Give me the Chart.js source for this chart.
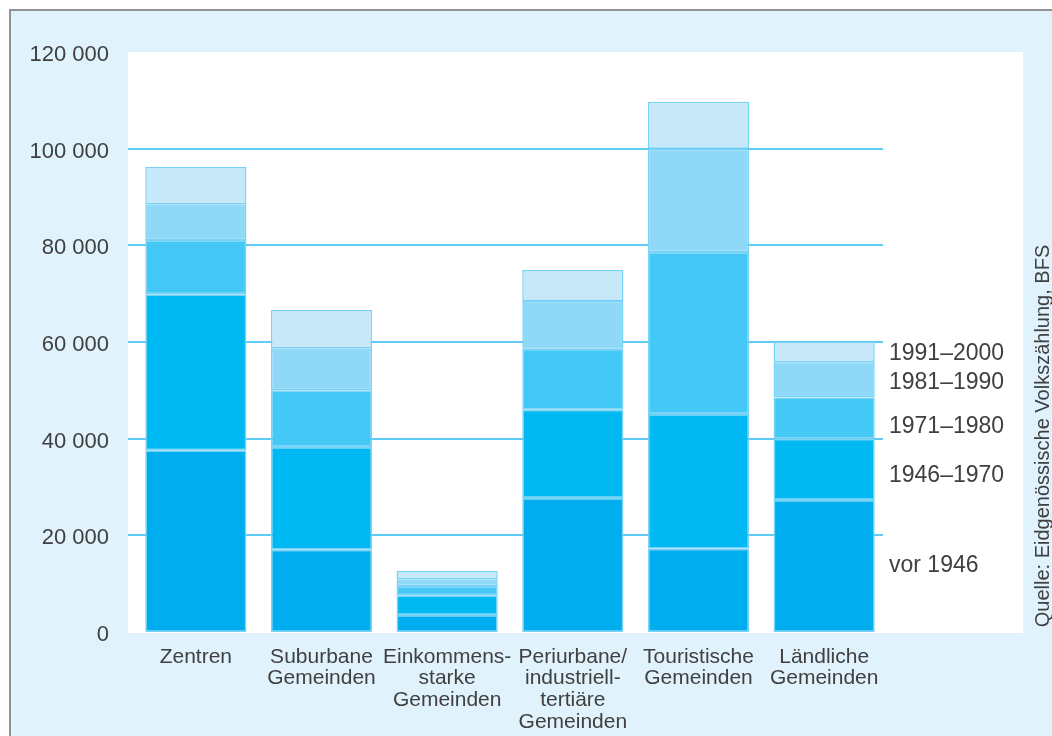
<!DOCTYPE html>
<html><head><meta charset="utf-8">
<script src="https://cdn.jsdelivr.net/npm/chart.js@4.4.1/dist/chart.umd.min.js"></script>
<style>html,body{margin:0;padding:0;background:#fff;} #wrap{width:1052px;height:736px;position:relative;}</style>
</head><body><div id="wrap"><canvas id="c"></canvas></div>
<script>
// ---- data ----
const categories = [
  ["Zentren"],
  ["Suburbane", "Gemeinden"],
  ["Einkommens-", "starke", "Gemeinden"],
  ["Periurbane/", "industriell-", "tertiäre", "Gemeinden"],
  ["Touristische", "Gemeinden"],
  ["Ländliche", "Gemeinden"]
];
const periods = ["vor 1946", "1946–1970", "1971–1980", "1981–1990", "1991–2000"];
const vor1946   = [37600, 17000, 3500, 27700, 17200, 27300];
const p1946_70  = [32300, 21300, 4100, 18300, 27900, 12700];
const p1971_80  = [11200, 11700, 1900, 12600, 33500, 8500];
const p1981_90  = [7400,  8700,  1400, 9900,  21400, 7300];
const p1991_00  = [7700,  7900,  1700, 6400,  9700,  4300];
const yTicks = [0, 20000, 40000, 60000, 80000, 100000, 120000];
const sourceText = "Quelle: Eidgenössische Volkszählung, BFS";

const seriesValues = [vor1946, p1946_70, p1971_80, p1981_90, p1991_00];
const seriesColors = ["#00adee", "#00b9f2", "#44c8f5", "#8fd8f7", "#c6e8f8"];
const labelNudge = [-1, 5, 8, 2, 1]; // px nudges of the end labels
const FONT = "'Liberation Sans', Arial, Helvetica, sans-serif";
const TEXT = "#404040";

function fmt(v) { return String(v).replace(/\B(?=(\d{3})+(?!\d))/g, " "); }

const bgPlugin = {
  id: "bg",
  beforeDraw(chart) {
    const ctx = chart.ctx, a = chart.chartArea;
    ctx.save();
    ctx.fillStyle = "#ffffff";
    ctx.fillRect(0, 0, chart.width, chart.height);
    ctx.fillStyle = "#e0f2fc";
    ctx.fillRect(11, 11, chart.width - 11, chart.height - 11);
    ctx.strokeStyle = "#929292";
    ctx.lineWidth = 2;
    ctx.beginPath();
    ctx.moveTo(10, chart.height); ctx.lineTo(10, 10); ctx.lineTo(chart.width, 10);
    ctx.stroke();
    // white plot panel
    ctx.fillStyle = "#ffffff";
    ctx.fillRect(a.left - 5, a.top, 1023 - (a.left - 5), a.bottom - a.top + 1);
    // grid lines
    const ys = chart.scales.y;
    ctx.strokeStyle = "#5fcbf5";
    ctx.lineWidth = 2;
    yTicks.forEach(v => {
      if (v === yTicks[0] || v === yTicks[yTicks.length - 1]) return;
      const y = Math.round(ys.getPixelForValue(v));
      ctx.beginPath();
      ctx.moveTo(a.left - 5, y); ctx.lineTo(a.right - 4, y);
      ctx.stroke();
    });
    ctx.restore();
  },
  afterDatasetsDraw(chart) {
    const ctx = chart.ctx, a = chart.chartArea;
    ctx.save();
    ctx.fillStyle = TEXT;
    ctx.font = "23px " + FONT;
    ctx.textAlign = "left";
    ctx.textBaseline = "middle";
    const last = categories.length - 1;
    periods.forEach((p, i) => {
      const el = chart.getDatasetMeta(i).data[last];
      const mid = (el.y + el.base) / 2;
      ctx.fillText(p, a.right + 2, mid + 1 + labelNudge[i]);
    });
    // source
    ctx.font = "20px " + FONT;
    ctx.textAlign = "center";
    ctx.translate(1043, 436);
    ctx.rotate(-Math.PI / 2);
    ctx.fillText(sourceText, 0, 0);
    ctx.restore();
  }
};

new Chart(document.getElementById("c"), {
  type: "bar",
  data: {
    labels: categories,
    datasets: periods.map((p, i) => ({
      label: p,
      data: seriesValues[i],
      backgroundColor: seriesColors[i],
      borderColor: "rgba(120,210,245,1)",
      borderWidth: 1.5,
      borderSkipped: false,
      categoryPercentage: 1,
      barPercentage: 0.805
    }))
  },
  options: {
    responsive: true,
    maintainAspectRatio: false,
    animation: false,
    layout: { padding: { left: 0, right: 165, top: 52, bottom: 0 } },
    plugins: { legend: { display: false }, tooltip: { enabled: false } },
    scales: {
      x: {
        stacked: true,
        grid: { display: false },
        border: { display: false },
        ticks: {
          color: TEXT,
          font: { family: FONT, size: 21, lineHeight: 1.03 },
          padding: 6,
          maxRotation: 0,
          autoSkip: false
        },
        afterFit(scale) { scale.height = 104; }
      },
      y: {
        stacked: true,
        min: 0,
        max: 120000,
        grid: { display: false },
        border: { display: false },
        afterBuildTicks(scale) { scale.ticks = yTicks.map(v => ({ value: v })); },
        ticks: {
          color: TEXT,
          font: { family: FONT, size: 22 },
          padding: 16,
          labelOffset: 3,
          callback: v => fmt(v)
        },
        afterFit(scale) { scale.width = 133; }
      }
    }
  },
  plugins: [bgPlugin]
});
</script>
</body></html>
